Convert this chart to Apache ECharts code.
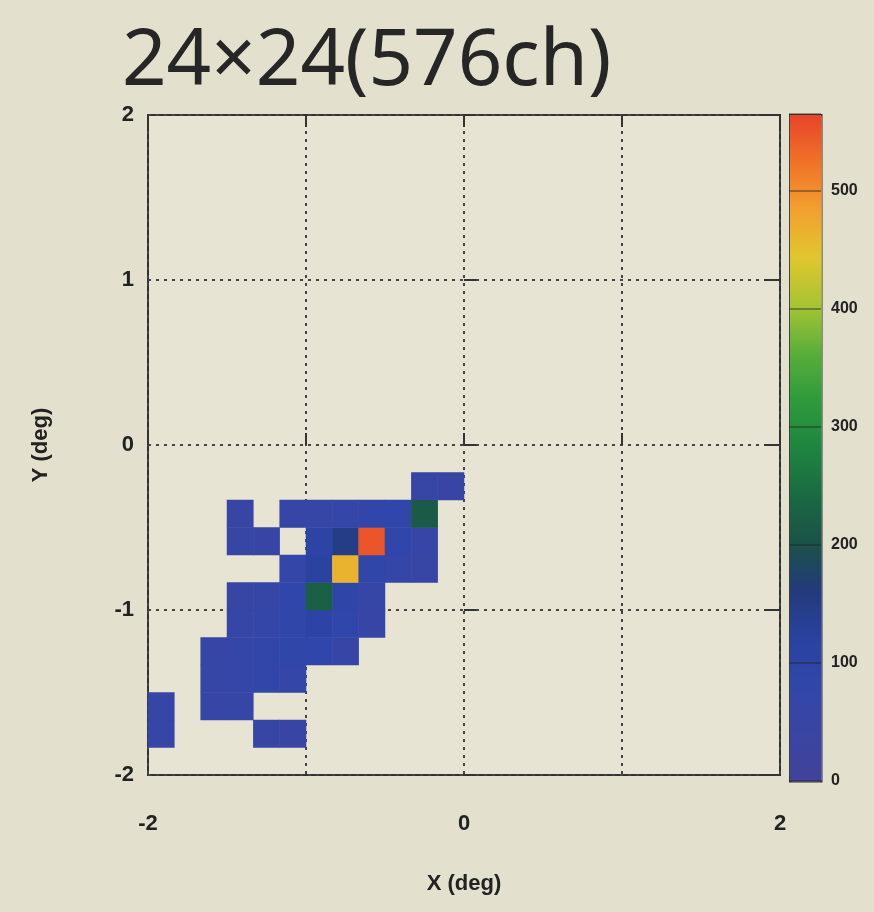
<!DOCTYPE html>
<html><head><meta charset="utf-8">
<script src="https://cdn.jsdelivr.net/npm/echarts@6/dist/echarts.min.js"></script>
<style>html,body{margin:0;padding:0;background:#e3e0ce}#c{width:874px;height:912px}</style>
</head><body><div id="c"></div><script>
// bin centres (deg), 24 bins from -2 to 2
const xCats = ['-1.917','-1.750','-1.583','-1.417','-1.250','-1.083','-0.917','-0.750','-0.583','-0.417','-0.250','-0.083','0.083','0.250','0.417','0.583','0.750','0.917','1.083','1.250','1.417','1.583','1.750','1.917'];
const yCats = ['-1.917','-1.750','-1.583','-1.417','-1.250','-1.083','-0.917','-0.750','-0.583','-0.417','-0.250','-0.083','0.083','0.250','0.417','0.583','0.750','0.917','1.083','1.250','1.417','1.583','1.750','1.917'];
// [xBin, yBin, counts]
const cells = [
  [0,1,60],[4,1,55],[5,1,50],
  [0,2,55],[2,2,60],[3,2,65],
  [2,3,65],[3,3,70],[4,3,75],[5,3,70],
  [2,4,60],[3,4,70],[4,4,75],[5,4,85],[6,4,80],[7,4,60],
  [3,5,65],[4,5,70],[5,5,85],[6,5,105],[7,5,80],[8,5,60],
  [3,6,55],[4,6,65],[5,6,80],[6,6,225],[7,6,90],[8,6,65],
  [5,7,70],[6,7,120],[7,7,465],[8,7,85],[9,7,70],[10,7,55],
  [3,8,55],[4,8,50],[6,8,100],[7,8,150],[8,8,550],[9,8,80],[10,8,60],
  [3,9,50],[5,9,60],[6,9,65],[7,9,70],[8,9,75],[9,9,80],[10,9,215],
  [10,10,55],[11,10,50]
];
const axisMin = -2, axisMax = 2, axisStep = 1;
const barMin = 0, barMax = 565, barStep = 100;
const scaleColors = ['#42429a','#3b45a2','#3146aa','#2a42a0','#233a7c','#1b5248','#1a6a42','#1f8540','#2e9a3c','#5aae3a','#a8c434','#e0c62e','#f2a030','#f07228','#e8442a'];

const chart = echarts.init(document.getElementById('c'), null, {renderer:'canvas'});
const lab = {fontFamily:'Liberation Sans', fontWeight:'bold', color:'#222'};
const tickStyle = {color:'#333', width:2};
chart.setOption({
  backgroundColor:'#e3e0ce',
  animation:false,
  title:{text:'24×24(576ch)', left:117, top:19, textStyle:{fontFamily:'Noto Sans', fontWeight:'normal', fontSize:78, color:'#262626'}},
  grid:[
    {left:148, top:115, width:632, height:660, show:true, backgroundColor:'#e7e4d4', borderColor:'#333', borderWidth:2},
    {left:789, top:114, width:32, height:667, show:false}
  ],
  xAxis:[
    {type:'category', data:xCats, gridIndex:0, show:false},
    {type:'value', gridIndex:0, min:axisMin, max:axisMax, interval:axisStep, position:'bottom',
      axisLine:{show:false}, axisTick:{show:true, inside:true, length:12, lineStyle:tickStyle},
      axisLabel:Object.assign({margin:38, fontSize:22, formatter:v => (v % 2 === 0 ? String(v) : '')}, lab),
      splitLine:{show:true, lineStyle:{type:[3,5], color:'#444', width:2}},
      name:'X (deg)', nameLocation:'middle', nameGap:98, nameTextStyle:Object.assign({fontSize:22}, lab)},
    {type:'value', gridIndex:0, min:axisMin, max:axisMax, interval:axisStep, position:'top',
      axisLine:{show:false}, axisTick:{show:true, inside:true, length:12, lineStyle:tickStyle},
      axisLabel:{show:false}, splitLine:{show:false}},
    {type:'value', gridIndex:1, show:false}
  ],
  yAxis:[
    {type:'category', data:yCats, gridIndex:0, show:false},
    {type:'value', gridIndex:0, min:axisMin, max:axisMax, interval:axisStep, position:'left',
      axisLine:{show:false}, axisTick:{show:true, inside:true, length:12, lineStyle:tickStyle},
      axisLabel:Object.assign({margin:14, fontSize:22}, lab),
      splitLine:{show:true, lineStyle:{type:[3,5], color:'#444', width:2}},
      name:'Y (deg)', nameLocation:'middle', nameGap:96, nameTextStyle:Object.assign({fontSize:22}, lab)},
    {type:'value', gridIndex:0, min:axisMin, max:axisMax, interval:axisStep, position:'right',
      axisLine:{show:false}, axisTick:{show:true, inside:true, length:16, lineStyle:tickStyle},
      axisLabel:{show:false}, splitLine:{show:false}},
    {type:'value', gridIndex:1, min:barMin, max:barMax, interval:barStep, position:'right', z:10,
      axisLine:{show:false}, axisTick:{show:false},
      axisLabel:Object.assign({margin:10, fontSize:16, formatter:v => (v % 100 === 0 ? String(v) : '')}, lab),
      splitLine:{show:true, lineStyle:{color:'#222', width:1.5, opacity:0.55}}}
  ],
  visualMap:{type:'continuous', min:barMin, max:barMax, left:789, top:114, itemWidth:32, itemHeight:667,
    padding:0, calculable:false, text:null, showLabel:false, hoverLink:false, seriesIndex:0,
    borderColor:'#333', borderWidth:1.5, inRange:{color:scaleColors}},
  series:[{type:'heatmap', xAxisIndex:0, yAxisIndex:0, data:cells, emphasis:{disabled:true}, itemStyle:{borderWidth:0}}]
});
</script></body></html>
